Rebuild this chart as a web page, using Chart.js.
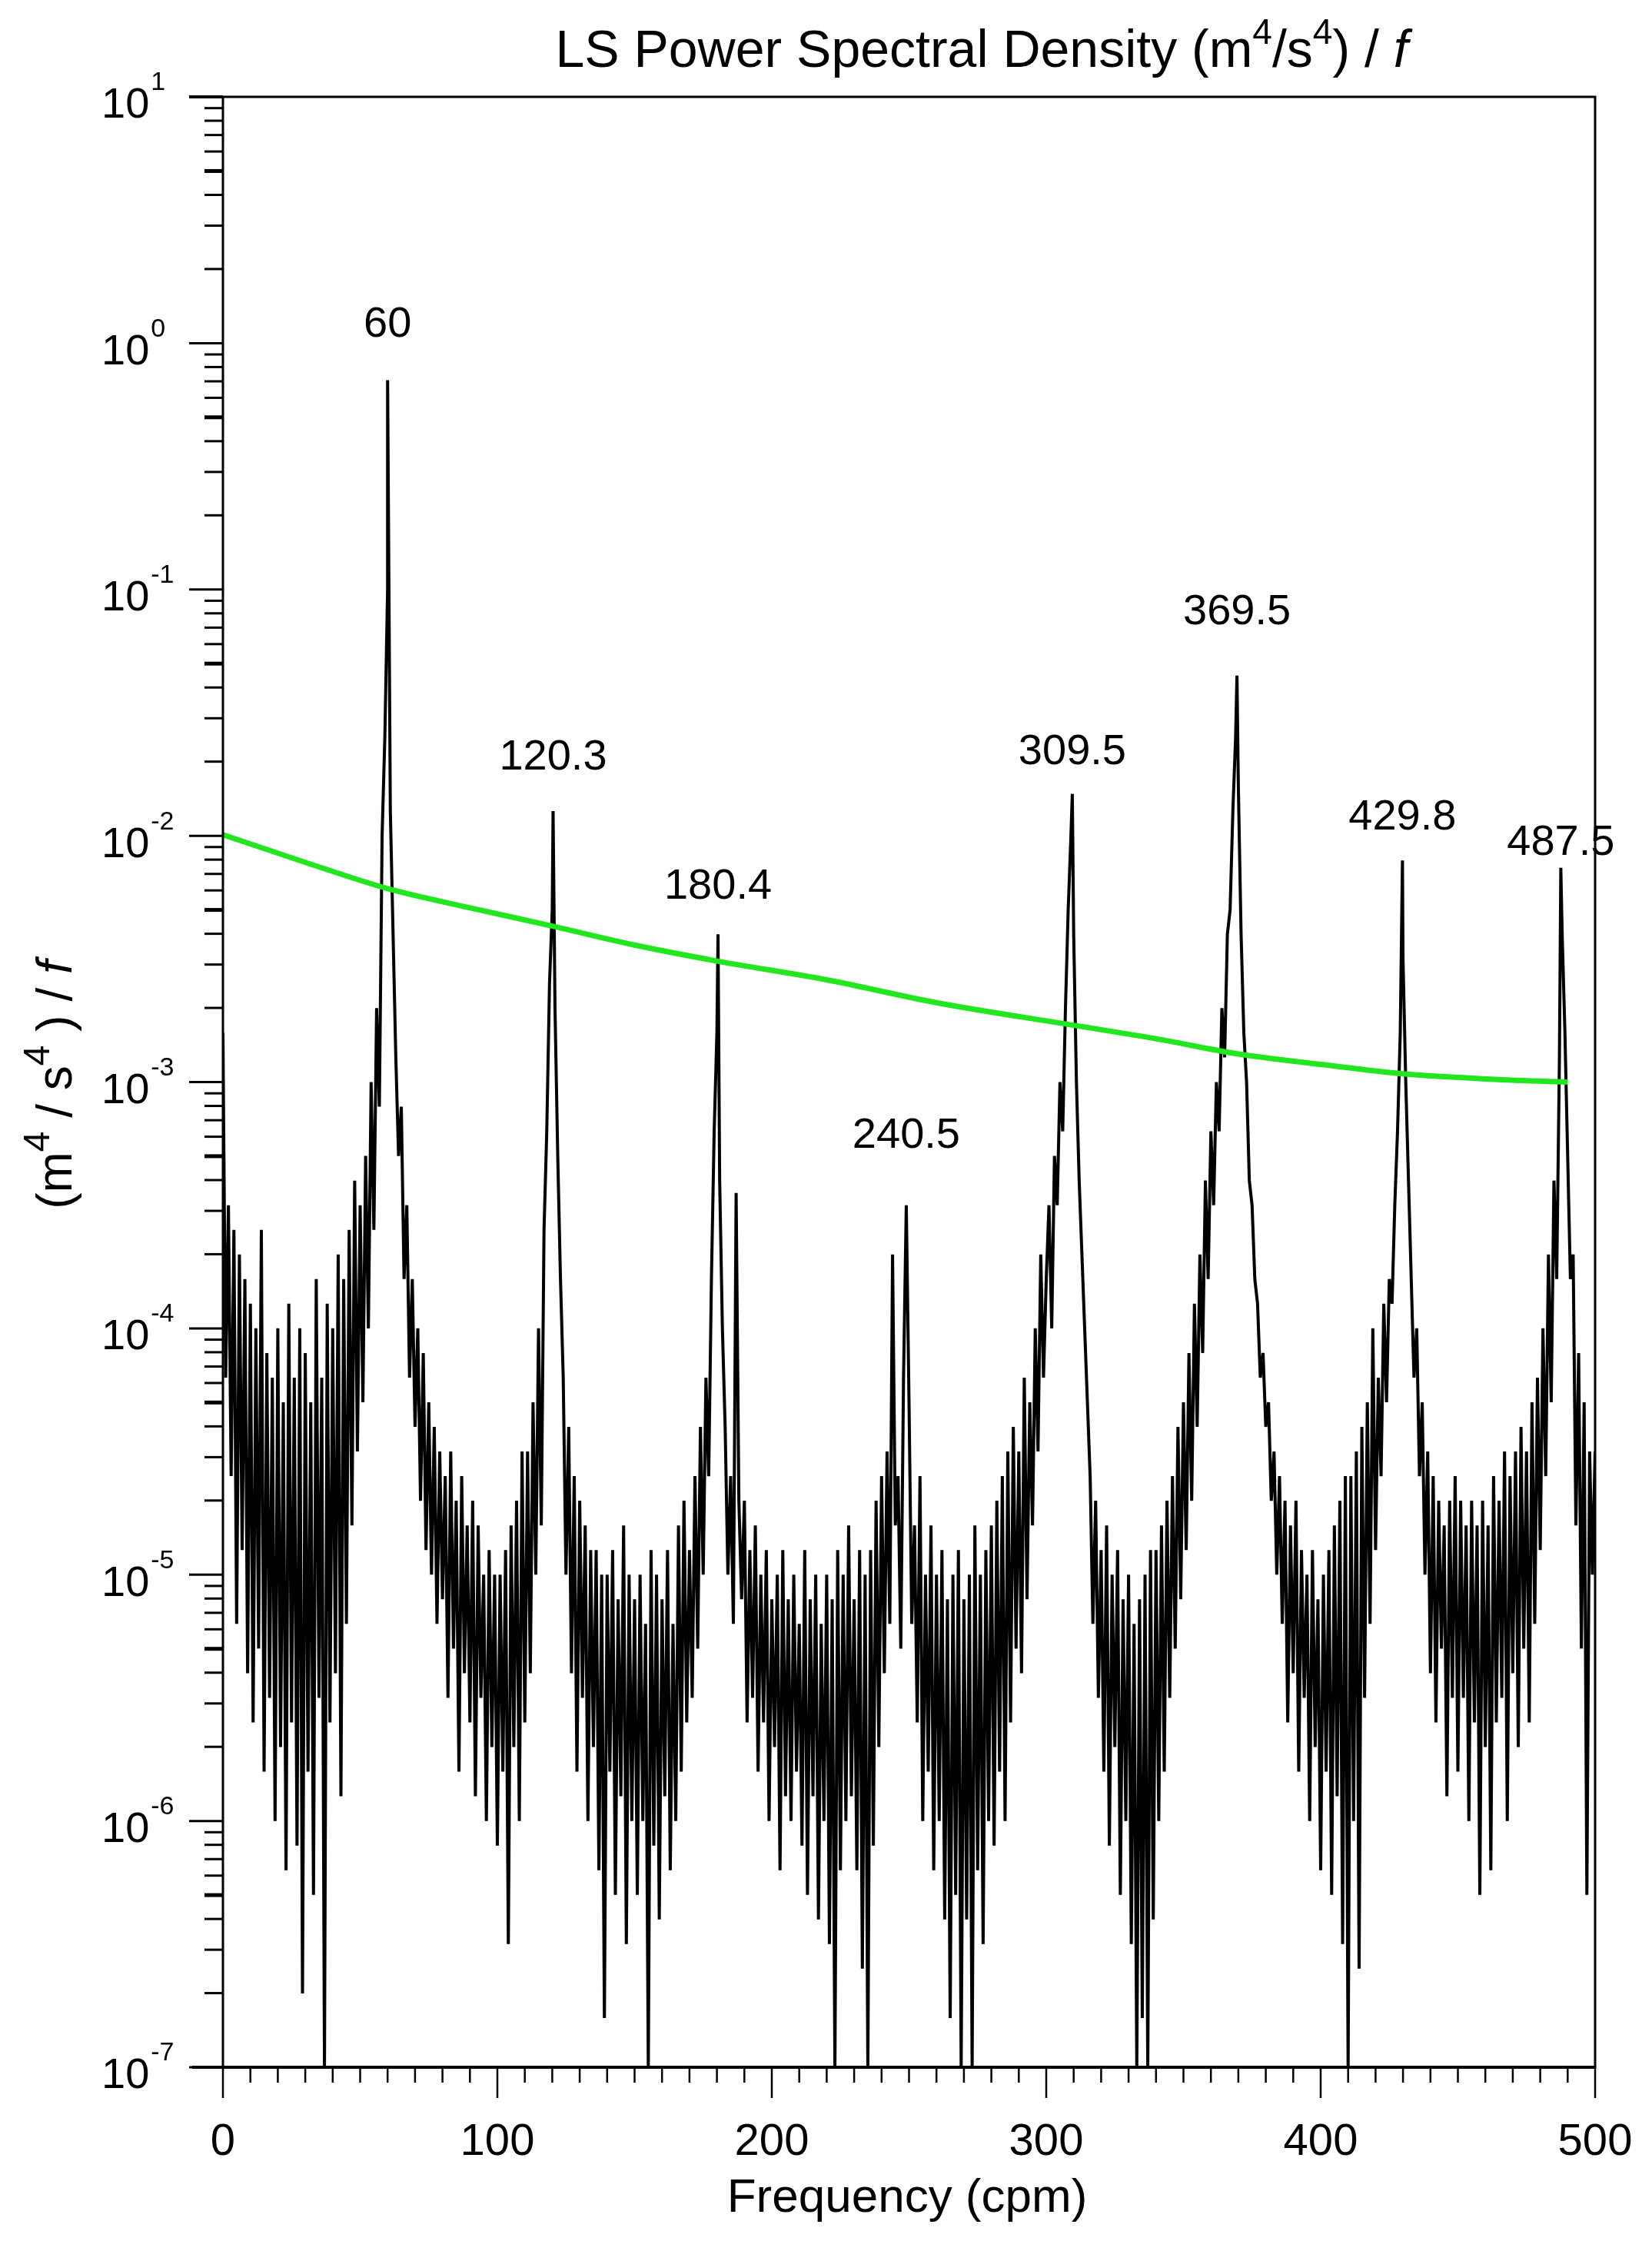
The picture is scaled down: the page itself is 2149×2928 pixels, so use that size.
<!DOCTYPE html>
<html><head><meta charset="utf-8">
<script src="https://cdn.jsdelivr.net/npm/chart.js@4"></script>
<style>html,body{margin:0;padding:0;background:#fff}#wrap{width:2149px;height:2928px}</style>
</head><body><div id="wrap"><canvas id="c" width="2149" height="2928"></canvas></div>
<script>
// Spectrum: log10 of PSD at integer frequencies 0..500 cpm
const baseFreqStart = 0;
const psdLog10 = [
-2.8,-4.2,-3.5,-4.6,-3.6,-5.2,-3.7,-4.9,-3.8,-5.4,
-3.9,-5.6,-4.0,-5.3,-3.6,-5.8,-4.1,-5.5,-4.2,-6.0,
-4.0,-5.7,-4.3,-6.2,-3.9,-5.6,-4.2,-6.1,-4.0,-6.7,
-4.1,-5.8,-4.3,-6.3,-3.8,-5.5,-4.2,-7.0,-3.9,-5.6,
-4.0,-5.4,-3.7,-5.9,-3.8,-5.2,-3.6,-4.8,-3.4,-4.5,
-3.5,-4.3,-3.3,-4.0,-3.0,-3.6,-2.7,-3.1,-2.0,-1.6,
-1.0,-1.9,-2.4,-2.9,-3.3,-3.1,-3.8,-3.5,-4.2,-3.8,
-4.4,-4.0,-4.7,-4.1,-4.9,-4.3,-5.0,-4.4,-5.2,-4.5,
-5.1,-4.6,-5.5,-4.5,-5.3,-4.7,-5.8,-4.6,-5.4,-4.8,
-5.6,-4.7,-5.9,-4.8,-5.5,-5.0,-6.0,-4.9,-5.7,-5.0,
-6.1,-5.0,-5.8,-4.9,-6.5,-4.8,-5.7,-4.7,-6.0,-4.5,
-5.6,-4.5,-5.4,-4.3,-5.0,-4.0,-4.8,-3.6,-3.2,-2.6,
-2.3,-2.7,-3.3,-3.8,-4.2,-5.0,-4.4,-5.4,-4.6,-5.8,
-4.7,-5.5,-4.8,-6.0,-4.9,-5.7,-4.9,-6.2,-5.0,-6.8,
-5.0,-5.8,-4.9,-6.3,-5.1,-5.9,-4.8,-6.5,-5.0,-6.0,
-5.1,-6.3,-5.0,-6.0,-5.2,-7.0,-4.9,-6.1,-5.0,-6.4,
-5.1,-5.9,-4.9,-6.2,-5.2,-6.0,-4.8,-5.8,-4.7,-5.6,
-4.9,-5.5,-4.6,-5.3,-4.4,-5.0,-4.2,-4.6,-3.8,-3.2,
-2.8,-3.4,-4.0,-4.4,-5.0,-4.6,-5.2,-3.45,-4.7,-5.1,
-4.7,-5.6,-4.9,-5.5,-4.8,-5.8,-5.0,-5.6,-4.9,-6.0,
-5.1,-5.7,-5.0,-6.2,-4.9,-5.9,-5.1,-6.0,-5.0,-5.8,
-5.2,-6.1,-4.9,-6.3,-5.1,-5.9,-5.0,-6.4,-5.2,-6.0,
-5.0,-6.5,-5.1,-7.0,-4.9,-6.2,-5.0,-6.0,-4.8,-5.9,
-5.1,-6.2,-4.9,-6.6,-5.0,-7.0,-4.9,-6.1,-4.7,-5.7,
-4.6,-5.4,-4.5,-5.2,-3.7,-4.8,-4.6,-5.3,-4.2,-3.5,
-4.3,-5.2,-4.8,-5.6,-4.6,-6.0,-5.0,-5.8,-4.8,-6.2,
-5.0,-6.0,-4.9,-6.4,-5.1,-6.8,-5.0,-6.3,-4.9,-7.0,
-5.1,-6.4,-5.0,-7.0,-4.8,-6.2,-5.0,-6.5,-4.9,-6.0,
-4.8,-6.1,-4.7,-5.8,-4.6,-6.0,-4.5,-5.6,-4.4,-5.3,
-4.5,-5.4,-4.2,-5.1,-4.3,-4.8,-4.0,-4.5,-3.7,-4.2,
-3.8,-3.5,-4.0,-3.3,-3.5,-3.0,-3.2,-2.7,-2.3,-2.0,
-2.4,-3.0,-3.4,-3.7,-4.0,-4.3,-4.6,-5.2,-4.7,-5.5,
-4.9,-5.8,-4.8,-6.1,-5.0,-5.7,-4.9,-6.3,-5.1,-6.0,
-5.0,-6.5,-5.2,-7.0,-5.1,-6.8,-5.0,-7.0,-4.9,-6.4,
-4.9,-6.0,-4.8,-5.8,-4.7,-5.5,-4.6,-5.3,-4.4,-5.1,
-4.3,-4.9,-4.1,-4.7,-3.9,-4.4,-3.7,-4.1,-3.4,-3.8,
-3.2,-3.5,-3.0,-3.2,-2.7,-2.9,-2.4,-2.3,-1.9,-1.6,
-1.8,-2.4,-2.8,-3.0,-3.4,-3.5,-3.8,-3.9,-4.2,-4.1,
-4.4,-4.3,-4.7,-4.5,-5.0,-4.6,-5.2,-4.7,-5.6,-4.8,
-5.4,-4.7,-5.8,-4.9,-5.5,-5.0,-6.0,-4.9,-5.7,-5.1,
-6.2,-5.0,-5.8,-4.9,-6.3,-4.8,-5.9,-4.7,-6.5,-4.6,
-7.0,-4.6,-6.0,-4.5,-6.6,-4.4,-5.5,-4.3,-5.2,-4.0,
-4.9,-4.2,-4.6,-3.9,-4.3,-3.8,-3.9,-3.5,-3.2,-2.8,
-2.5,-3.0,-3.4,-3.8,-4.2,-4.0,-4.6,-4.3,-5.0,-4.5,
-5.4,-4.6,-5.6,-4.7,-5.3,-4.8,-5.9,-4.7,-5.5,-4.6,
-5.8,-4.7,-5.5,-4.8,-6.0,-4.7,-5.6,-4.8,-6.3,-4.7,
-5.7,-4.8,-6.2,-4.6,-5.6,-4.7,-5.5,-4.5,-6.0,-4.6,
-5.4,-4.5,-5.7,-4.4,-5.3,-4.5,-5.6,-4.3,-5.2,-4.2,
-4.9,-4.0,-4.6,-3.7,-4.3,-3.4,-3.8,-2.9,-2.4,-2.8,
-3.3,-3.8,-3.7,-4.8,-4.1,-5.3,-4.3,-6.3,-4.5,-5.0,
-4.5
];
// Peaks
const peakFreqs  = [60, 120.3, 180.4, 249, 309.5, 369.5, 429.8, 487.5];
const peakLog10  = [-0.15, -1.9, -2.4, -3.5, -1.83, -1.35, -2.1, -2.13];
const peakLabels = ["60", "120.3", "180.4", "240.5", "309.5", "369.5", "429.8", "487.5"];
// Green threshold curve
const curveFreqs  = [0, 30, 60, 90, 120, 150, 180, 220, 260, 310, 340, 370, 400, 430, 460, 490];
const curveValues = [0.0101, 0.0078, 0.0061, 0.0051, 0.0043, 0.0036, 0.0031, 0.0026, 0.0021, 0.0017, 0.0015, 0.0013, 0.00118, 0.00108, 0.00103, 0.0010];
const xTicks = [0, 100, 200, 300, 400, 500];
const yDecades = [-7, -6, -5, -4, -3, -2, -1, 0, 1];

let spec = psdLog10.map((v, i) => ({x: baseFreqStart + i, y: Math.pow(10, v)}));
peakFreqs.forEach((f, i) => spec.push({x: f, y: Math.pow(10, peakLog10[i])}));
spec.sort((a, b) => a.x - b.x);
const curve = curveFreqs.map((f, i) => ({x: f, y: curveValues[i]}));

const L = 290, R = 2075, T = 126, B = 2689;
const FONT = 'Liberation Sans, Arial, sans-serif';

function drawParts(ctx, parts, cx, cy) {
  let total = 0;
  parts.forEach(p => { ctx.font = (p[3] ? 'italic ' : '') + p[1] + 'px ' + FONT; total += ctx.measureText(p[0]).width; });
  let x = cx - total / 2;
  ctx.textAlign = 'left'; ctx.textBaseline = 'middle';
  parts.forEach(p => {
    ctx.font = (p[3] ? 'italic ' : '') + p[1] + 'px ' + FONT;
    ctx.fillText(p[0], x, cy + p[2]);
    x += ctx.measureText(p[0]).width;
  });
}

const deco = {
  id: 'deco',
  afterDraw(chart) {
    const ctx = chart.ctx, xs = chart.scales.x, ys = chart.scales.y, a = chart.chartArea;
    ctx.save();
    ctx.strokeStyle = '#000';
    ctx.lineWidth = 3;
    ctx.strokeRect(a.left, a.top, a.right - a.left, a.bottom - a.top);
    ctx.lineWidth = 4;
    ctx.beginPath(); ctx.moveTo(a.left - 40, a.bottom); ctx.lineTo(a.right, a.bottom); ctx.stroke();
    ctx.beginPath(); ctx.moveTo(a.left - 44, a.top); ctx.lineTo(a.left, a.top); ctx.stroke();
    yDecades.forEach(d => {
      for (let m = 1; m <= 9; m++) {
        if (d === 1 && m > 1) break;
        const py = ys.getPixelForValue(m * Math.pow(10, d));
        const len = m === 1 ? 44 : 24;
        ctx.lineWidth = (m === 5) ? 5 : 3;
        ctx.beginPath(); ctx.moveTo(a.left - len, py); ctx.lineTo(a.left, py); ctx.stroke();
      }
    });
    ctx.lineWidth = 2.5;
    for (let f = 0; f <= 500; f += 10) {
      const px = xs.getPixelForValue(f);
      const len = f % 100 === 0 ? 40 : 20;
      ctx.beginPath(); ctx.moveTo(px, a.bottom); ctx.lineTo(px, a.bottom + len); ctx.stroke();
    }
    ctx.fillStyle = '#000';
    yDecades.forEach(d => {
      const py = ys.getPixelForValue(Math.pow(10, d));
      ctx.font = '56px ' + FONT;
      ctx.textAlign = 'left'; ctx.textBaseline = 'middle';
      const w = ctx.measureText('10').width;
      const x0 = 132;
      ctx.fillText('10', x0, py + 12);
      ctx.font = '34px ' + FONT;
      ctx.fillText(String(d), x0 + w + 2, py - 18);
    });
    ctx.font = '58px ' + FONT; ctx.textAlign = 'center'; ctx.textBaseline = 'middle';
    xTicks.forEach(f => ctx.fillText(String(f), xs.getPixelForValue(f), 2787));
    ctx.font = '62px ' + FONT;
    ctx.fillText('Frequency (cpm)', 1180, 2860);
    const parts = [['LS Power Spectral Density (m', 68, 0, false], ['4', 46, -24, false], ['/s', 68, 0, false], ['4', 46, -24, false], [') / ', 68, 0, false], ['f', 68, 0, true]];
    drawParts(ctx, parts, 1277, 68);
    ctx.save();
    ctx.translate(75, 1411); ctx.rotate(-Math.PI / 2);
    const yp = [['(m', 64, 0, false], ['4', 48, -24, false], [' / s', 64, 0, false], ['4', 48, -24, false], [' ) / ', 64, 0, false], ['f', 64, 0, true]];
    drawParts(ctx, yp, 0, 0);
    ctx.restore();
    ctx.font = '56px ' + FONT; ctx.textAlign = 'center'; ctx.textBaseline = 'middle';
    const offs = [72, 70, 62, 90, 54, 82, 56, 32];
    peakFreqs.forEach((f, i) => {
      let px = xs.getPixelForValue(f);
      const w = ctx.measureText(peakLabels[i]).width;
      if (px + w / 2 > 2128) px = 2128 - w / 2;
      const py = ys.getPixelForValue(Math.pow(10, peakLog10[i])) - offs[i];
      ctx.fillText(peakLabels[i], px, py);
    });
    ctx.restore();
  }
};

new Chart(document.getElementById('c'), {
  type: 'scatter',
  data: { datasets: [
    { data: curve, showLine: true, borderColor: '#22e61e', borderWidth: 7, pointRadius: 0, cubicInterpolationMode: 'monotone', order: 1 },
    { data: spec, showLine: true, borderColor: '#000', borderWidth: 4, pointRadius: 0, tension: 0, order: 2 }
  ]},
  options: {
    responsive: false, animation: false, devicePixelRatio: 1,
    layout: { padding: { left: 0, right: 2149 - R, top: T, bottom: 0 } },
    plugins: { legend: { display: false }, tooltip: { enabled: false } },
    scales: {
      x: { type: 'linear', min: 0, max: 500, grid: { display: false }, border: { display: false },
           ticks: { display: false }, afterFit: s => { s.height = 2928 - B; } },
      y: { type: 'logarithmic', min: 1e-7, max: 10, grid: { display: false }, border: { display: false },
           ticks: { display: false }, afterFit: s => { s.width = L; } }
    }
  },
  plugins: [deco]
});
</script></body></html>
